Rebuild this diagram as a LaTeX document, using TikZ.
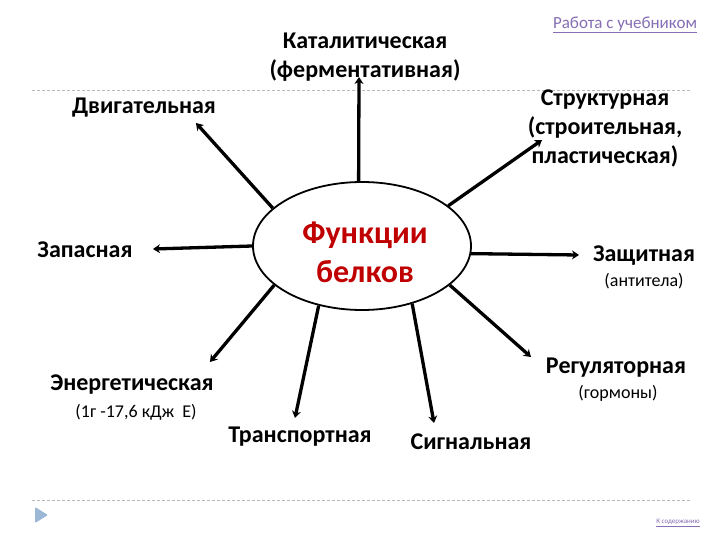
\documentclass[tikz,border=0pt]{standalone}
\usepackage{fontspec}
\setmainfont{Carlito}
\usetikzlibrary{arrows.meta,shapes.geometric}
\definecolor{titlered}{RGB}{192,0,0}
\definecolor{linkc}{RGB}{134,110,180}
\definecolor{triblue}{RGB}{155,185,215}
\begin{document}
\begin{tikzpicture}[x=1pt,y=-1pt,
  lab/.style={font=\fontsize{24}{29}\selectfont\bfseries, align=center, inner sep=0pt},
  sub/.style={font=\fontsize{18}{22}\selectfont, inner sep=0pt},
  arr/.style={line width=3.3pt, -{Stealth[length=7pt,width=9pt]}},
  sep/.style={draw=gray!55, line width=0.8pt, dash pattern=on 3pt off 2pt},
]
\path[use as bounding box] (0,0) rectangle (720,540);
\fill[white] (0,0) rectangle (720,540);

% separators
\draw[sep] (32,90) -- (690,90);
\draw[sep] (32,500) -- (690,500);
\fill[triblue, rounded corners=1pt] (35,507) -- (48,515) -- (35,523) -- cycle;

% centre
\node[ellipse, draw, line width=1.8pt, minimum width=218pt, minimum height=128pt, inner sep=0pt] (c) at (362,246) {};
\node[font=\fontsize{32}{39}\selectfont\bfseries, text=titlered, align=center, inner sep=0pt] (t) at (365,252) {Функции\\белков};

% labels
\node[lab] (kat) at (365,57) {Каталитическая\\(ферментативная)};
\node[lab] (dvig) at (144,108) {Двигательная};
\node[lab] (str) at (605,128) {Структурная\\(строительная,\\пластическая)};
\node[lab] (zap) at (85,250) {Запасная};
\node[lab] (zash) at (644,256) {Защитная};
\node[sub] (anti) at (644,281) {(антитела)};
\node[lab] (energ) at (132,385) {Энергетическая};
\node[sub] (kj) at (136,412) {(1г -17,6 кДж\ \ Е)};
\node[lab] (trans) at (300,437) {Транспортная};
\node[lab] (sig) at (471,442) {Сигнальная};
\node[lab] (reg) at (616,368) {Регуляторная};
\node[sub] (gorm) at (618,393) {(гормоны)};
\node[font=\fontsize{17}{20}\selectfont, text=linkc, inner sep=0pt] (link) at (625,25) {\underline{Работа с учебником}};
\node[font=\fontsize{7}{8}\selectfont, text=linkc, inner sep=0pt] (toc) at (678,523) {\underline{К содержанию}};

% arrow tips
\coordinate (pUp) at (359,77);
\coordinate (pDvig) at (196,123);
\coordinate (pStr) at (542,140);
\coordinate (pZap) at (153,249);
\coordinate (pZash) at (579,255);
\coordinate (pEnerg) at (210,362);
\coordinate (pTrans) at (295,418);
\coordinate (pSig) at (434,423);
\coordinate (pReg) at (531,357);

\draw[arr] (c.93) -- (pUp);
\draw[arr] (c.157.5) -- (pDvig);
\draw[arr] (c.25.2) -- (pStr);
\draw[arr] (c.180) -- (pZap);
\draw[arr] (c.-4.7) -- (pZash);
\draw[arr] (c.204.1) -- (pEnerg);
\draw[arr] (c.234.6) -- (pTrans);
\draw[arr] (c.-49.3) -- (pSig);
\draw[arr] (c.-24.2) -- (pReg);
\end{tikzpicture}
\end{document}
